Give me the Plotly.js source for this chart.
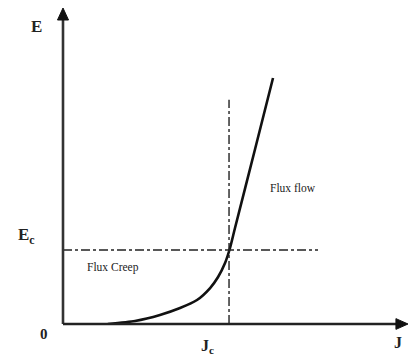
<!DOCTYPE html>
<html>
<head>
<meta charset="utf-8">
<script src="https://cdn.plot.ly/plotly-3.0.1.min.js"></script>
<style>html,body{margin:0;padding:0;background:#fff;}#chart{width:410px;height:362px;}</style>
</head>
<body>
<div id="chart"></div>
<script>
// E-J characteristic curve (normalized: Jc = 1, Ec = 1)
const curveJ = [0.27, 0.434, 0.584, 0.705, 0.807, 0.886, 0.934, 0.976, 1.006, 1.036, 1.157, 1.265];
const curveE = [0.00, 0.041, 0.122, 0.216, 0.324, 0.486, 0.635, 0.824, 1.027, 1.297, 2.365, 3.324];
const Jc = 1.0;
const Ec = 1.0;
const jcLineTop = 3.03;
const ecLineEnd = 1.536;
const xMax = 2.078;
const yMax = 4.27;
const axisLabels = {E: "E", Ec: "E<sub>c</sub>", zero: "0", Jc: "J<sub>c</sub>", J: "J"};
const regionLabels = ["Flux Creep", "Flux flow"];

const serif = "Liberation Serif, Times New Roman, serif";

const traces = [
  {x: curveJ, y: curveE, mode: "lines", line: {color: "#111", width: 2.6, shape: "spline", smoothing: 0.6}, hoverinfo: "skip"},
  {x: [Jc, Jc], y: [0, jcLineTop], mode: "lines", line: {color: "#222", width: 1.4, dash: "dashdot"}, hoverinfo: "skip"},
  {x: [0, ecLineEnd], y: [Ec, Ec], mode: "lines", line: {color: "#222", width: 1.4, dash: "dashdot"}, hoverinfo: "skip"}
];

function lbl(text, x, y, size, bold, ref) {
  return {text: bold ? "<b>" + text + "</b>" : text, x: x, y: y,
    xref: ref ? "paper" : "x", yref: ref ? "paper" : "y",
    xanchor: "center", yanchor: "middle",
    showarrow: false, font: {family: serif, size: size, color: "#222"}};
}

const annotations = [
  lbl(axisLabels.E, -0.076, 0.943, 17, true, true),
  lbl(axisLabels.Ec, -0.105, 0.28, 17, true, true),
  lbl(axisLabels.zero, -0.055, -0.032, 15, true, true),
  lbl(axisLabels.Jc, 0.42, -0.07, 16, true, true),
  lbl(axisLabels.J, 0.971, -0.06, 16, true, true),
  lbl(regionLabels[0], 0.30, 0.76, 11.5, false, false),
  lbl(regionLabels[1], 1.386, 1.84, 11.5, false, false)
];

const axisColor = "#333";
const shapes = [
  {type: "line", xref: "paper", yref: "paper", x0: 0, y0: 0, x1: 0, y1: 0.97, line: {color: axisColor, width: 2.6}},
  {type: "line", xref: "paper", yref: "paper", x0: 0, y0: 0, x1: 0.975, y1: 0, line: {color: "#222", width: 2.6}},
  {type: "path", xref: "paper", yref: "paper", path: "M -0.016 0.962 L 0 1.0 L 0.016 0.962 Z", fillcolor: "#111", line: {color: "#111", width: 1}},
  {type: "path", xref: "paper", yref: "paper", path: "M 0.965 -0.017 L 1.0 0 L 0.965 0.017 Z", fillcolor: "#111", line: {color: "#111", width: 1}}
];

const layout = {
  width: 410, height: 362,
  margin: {l: 63, r: 2, t: 8, b: 38},
  paper_bgcolor: "#fff", plot_bgcolor: "#fff",
  showlegend: false,
  xaxis: {range: [0, xMax], visible: false, fixedrange: true},
  yaxis: {range: [0, yMax], visible: false, fixedrange: true},
  annotations: annotations,
  shapes: shapes
};

Plotly.newPlot("chart", traces, layout, {staticPlot: true, displayModeBar: false});
</script>
</body>
</html>
